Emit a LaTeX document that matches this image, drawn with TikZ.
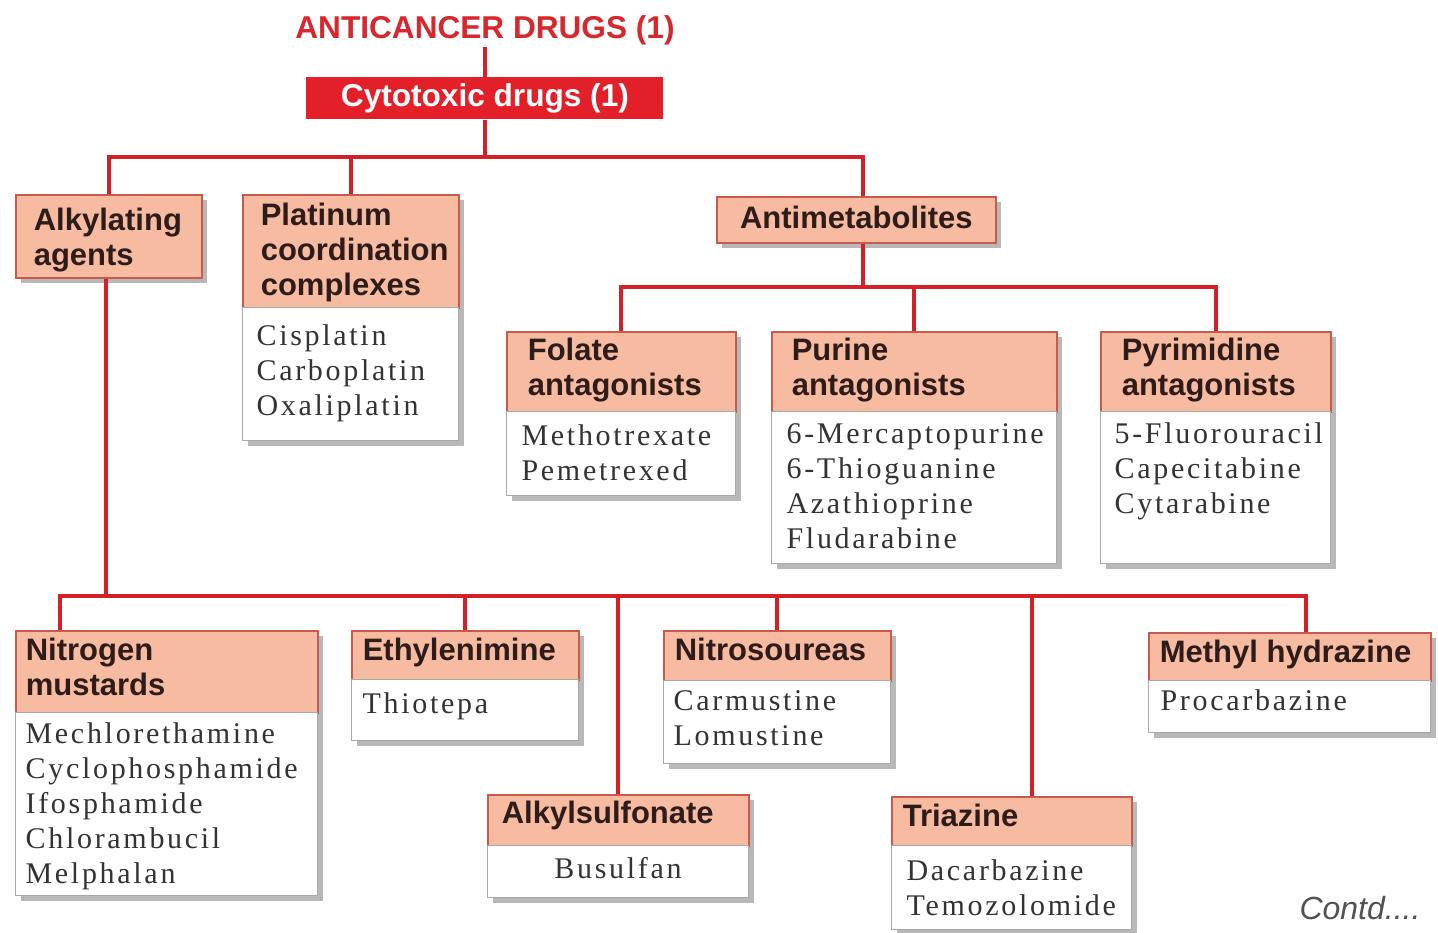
\documentclass[tikz,border=0pt]{standalone}
\usepackage{fontspec}
\setmainfont{Liberation Serif}
\newfontfamily\hfam{Liberation Sans}
\newfontfamily\bfam{Liberation Serif}[LetterSpace=9]
\usetikzlibrary{shadows}
\definecolor{linered}{HTML}{D42128}
\definecolor{titlered}{HTML}{D8282E}
\definecolor{cytored}{HTML}{E3202A}
\definecolor{hdrfill}{HTML}{F7BBA2}
\definecolor{hdrline}{HTML}{C75A4C}
\definecolor{hdrtext}{HTML}{2E1C1A}
\definecolor{bodyline}{HTML}{A8A8A8}
\definecolor{bodytext}{HTML}{333333}
\newcommand\hdrfont{\hfam\bfseries\fontsize{15.5}{17.5}\selectfont}
\newcommand\bdyfont{\bfam\fontsize{15}{17.5}\selectfont}
\newcommand\cell[5]{\parbox[c][#1][t]{#2}{\raggedright\leftskip=#3\relax\vspace*{#4}\strut#5}}
\newcommand\ccell[4]{\parbox[c][#1][t]{#2}{\centering\vspace*{#3}\strut#4}}
\tikzset{
  conn/.style={draw=linered, line width=2pt},
  shad/.style={drop shadow={shadow xshift=2.5pt, shadow yshift=-2.5pt, fill=black!55, opacity=0.5}},
  hdr/.style={rectangle, draw=hdrline, fill=hdrfill, line width=0.8pt, inner sep=0pt, anchor=north west, font=\hdrfont, text=hdrtext, shad},
  bdy/.style={rectangle, draw=bodyline, fill=white, line width=0.6pt, inner sep=0pt, anchor=north west, font=\bdyfont, text=bodytext, shad},
  titlef/.style={font=\hfam\bfseries\fontsize{15.8}{18}\selectfont, text=titlered, inner sep=1pt},
  cytobox/.style={rectangle, fill=cytored, text=white, inner sep=0pt, anchor=north west, minimum width=178.5pt, minimum height=21pt, font=\hfam\bfseries\fontsize{15.8}{18}\selectfont}
}
\begin{document}
\begin{tikzpicture}[x=0.5pt,y=-0.5pt]
\fill[white] (0,0) rectangle (1438,932);
\useasboundingbox (0,0) rectangle (1438,932);

% top
\node[titlef] (title) at (485,30) {ANTICANCER DRUGS (1)};
\node[cytobox] (cyto) at (306,77) {Cytotoxic drugs (1)};

% first level
\node[hdr] (alkH) at (15,194) {\cell{41.5pt}{93pt}{9pt}{5.5pt}{Alkylating\\agents}};
\node[hdr] (platH) at (242,194) {\cell{56.5pt}{108pt}{9pt}{3.25pt}{Platinum\\coordination\\complexes}};
\node[bdy] (platB) at (242,307) {\cell{66.5pt}{108pt}{7pt}{6.5pt}{Cisplatin\\Carboplatin\\Oxaliplatin}};
\node[hdr] (antiH) at (716,196) {\ccell{23pt}{139.5pt}{3.75pt}{Antimetabolites}};

% antimetabolites
\node[hdr] (folH) at (506,331) {\cell{40pt}{114.5pt}{10.5pt}{2.25pt}{Folate\\antagonists}};
\node[bdy] (folB) at (506,411) {\cell{42pt}{114.5pt}{7.5pt}{4.75pt}{Methotrexate\\Pemetrexed}};
\node[hdr] (purH) at (771,331) {\cell{40pt}{142.5pt}{10pt}{2.25pt}{Purine\\antagonists}};
\node[bdy] (purB) at (771,411) {\cell{76pt}{142.5pt}{7.5pt}{3.75pt}{6-Mercaptopurine\\6-Thioguanine\\Azathioprine\\Fludarabine}};
\node[hdr] (pyrH) at (1100,331) {\cell{40pt}{115pt}{10.5pt}{2.25pt}{Pyrimidine\\antagonists}};
\node[bdy] (pyrB) at (1100,411) {\cell{76pt}{115pt}{7pt}{3.75pt}{5-Fluorouracil\\Capecitabine\\Cytarabine}};

% alkylating agents
\node[hdr] (nitH) at (15,630) {\cell{41pt}{151pt}{5pt}{2.75pt}{Nitrogen\\mustards}};
\node[bdy] (nitB) at (15,712) {\cell{91.5pt}{151pt}{5pt}{3.25pt}{Mechlorethamine\\Cyclophosphamide\\Ifosphamide\\Chlorambucil\\Melphalan}};
\node[hdr] (ethH) at (351,630) {\cell{24.5pt}{113.5pt}{5.5pt}{2.75pt}{Ethylenimine}};
\node[bdy] (ethB) at (351,679) {\cell{30.5pt}{113.5pt}{5.5pt}{4.75pt}{Thiotepa}};
\node[hdr] (nsoH) at (663,630) {\cell{25pt}{113.5pt}{5.5pt}{2.75pt}{Nitrosoureas}};
\node[bdy] (nsoB) at (663,680) {\cell{41.5pt}{113.5pt}{5pt}{2.75pt}{Carmustine\\Lomustine}};
\node[hdr] (asfH) at (487,794) {\cell{25.5pt}{130.5pt}{7pt}{2.25pt}{Alkylsulfonate}};
\node[bdy] (asfB) at (487,845) {\ccell{26pt}{130.5pt}{4.25pt}{Busulfan}};
\node[hdr] (triH) at (891,796) {\cell{24.5pt}{120pt}{5.5pt}{2.5pt}{Triazine}};
\node[bdy] (triB) at (891,845) {\cell{42pt}{120pt}{7.5pt}{5.25pt}{Dacarbazine\\Temozolomide}};
\node[hdr] (mhyH) at (1148,632) {\cell{24pt}{141pt}{5.5pt}{2.5pt}{\mbox{Methyl hydrazine}}};
\node[bdy] (mhyB) at (1148,680) {\cell{26pt}{141pt}{6pt}{2.75pt}{Procarbazine}};

\node[font=\hfam\itshape\fontsize{16}{18}\selectfont, text=black!68] (contd) at (1360,908) {Contd....};

% connectors
\coordinate (b1) at (cyto.south |- 0,157);
\coordinate (b2) at ([xshift=3.25pt]antiH.south |- 0,287);
\coordinate (b3) at ([xshift=-1.5pt]alkH.south |- 0,596);

\draw[conn] (title.south -| cyto.north) -- (cyto.north);
\draw[conn] (cyto.south) -- (b1);
\draw[conn] (alkH.north) |- (b1) -| ([xshift=3.25pt]antiH.north);
\draw[conn] (platH.north) -- (platH.north |- b1);

\draw[conn] ([xshift=3.25pt]antiH.south) -- (b2);
\draw[conn] (folH.north) |- (b2) -| (pyrH.north);
\draw[conn] (purH.north) -- (purH.north |- b2);

\draw[conn] ([xshift=-1.5pt]alkH.south) -- (b3);
\draw[conn] ([xshift=22.5pt]nitH.north west) |- (b3) -| ([xshift=8pt]mhyH.north);
\draw[conn] (ethH.north) -- (ethH.north |- b3);
\draw[conn] (asfH.north) -- (asfH.north |- b3);
\draw[conn] (nsoH.north) -- (nsoH.north |- b3);
\draw[conn] ([xshift=10pt]triH.north) -- ([xshift=10pt]triH.north |- b3);
\end{tikzpicture}
\end{document}
